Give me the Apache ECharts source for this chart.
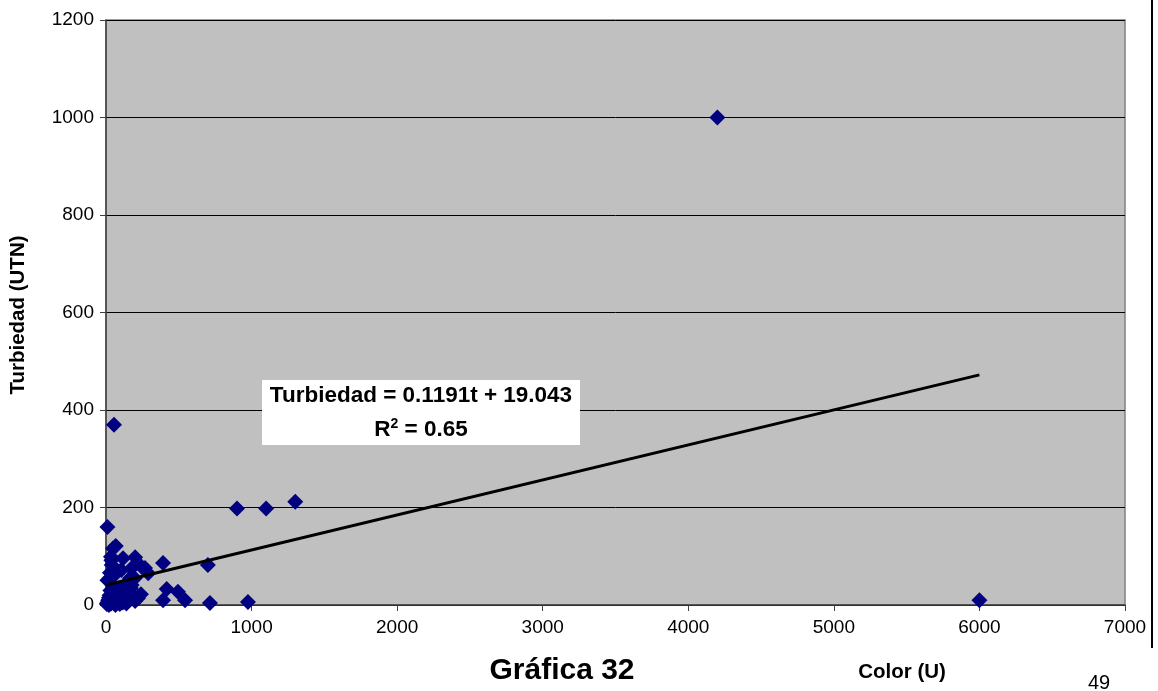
<!DOCTYPE html>
<html>
<head>
<meta charset="utf-8">
<script src="https://cdn.jsdelivr.net/npm/echarts@6/dist/echarts.min.js"></script>
<style>
html,body{margin:0;padding:0;background:#fff;}
#chart{width:1158px;height:691px;}
</style>
</head>
<body>
<div id="chart"></div>
<script>
// Data: [Color (U), Turbiedad (UTN)]
const colorU = [
  5,10,15,20,20,25,30,30,35,40,45,50,50,55,60,60,65,70,75,80,85,90,95,100,105,110,115,120,130,140,150,160,170,180,200,220,240,
  10,48,67,37,34,39,27,62,25,60,10,117,200,105,174,243,268,290,165,197,176,392,55,
  900,1100,1300,700,714,975,392,417,494,543,220,4200,6000
];
const turbiedad = [
  2,5,10,0,15,20,8,30,3,12,25,5,18,35,8,28,0,15,22,5,32,10,2,20,12,28,5,38,15,3,25,10,35,20,8,17,22,
  160,116,121,92,99,82,66,66,55,62,51,96,98,72,75,79,76,65,55,55,41,86,370,
  198,198,212,82,4,6,10,33,27,10,14,1000,10
];
// Trend line as drawn in the picture (two end points)
const trendX = [0, 6000];
const trendY = [41, 472];

const xTicks = [0,1000,2000,3000,4000,5000,6000,7000];
const yTicks = [0,200,400,600,800,1000,1200];

const points = colorU.map((x, i) => [x, turbiedad[i]]);
const trend = trendX.map((x, i) => [x, trendY[i]]);

const FONT = '"Liberation Sans", Arial, sans-serif';
const chart = echarts.init(document.getElementById('chart'), null, {renderer: 'canvas'});
chart.setOption({
  animation: false,
  backgroundColor: '#ffffff',
  grid: {left: 106, right: 33, top: 20, bottom: 86, show: true, backgroundColor: '#c0c0c0', borderColor: '#808080', borderWidth: 1.5},
  xAxis: {
    type: 'value', min: xTicks[0], max: xTicks[xTicks.length-1], interval: 1000,
    axisLine: {show: true, onZero: false, lineStyle: {color: '#404040', width: 1.5}},
    axisTick: {show: true, length: 6, lineStyle: {color: '#404040'}},
    axisLabel: {color: '#000', fontFamily: FONT, fontSize: 19, margin: 13, formatter: v => String(v)},
    splitLine: {show: false}
  },
  yAxis: {
    type: 'value', min: yTicks[0], max: yTicks[yTicks.length-1], interval: 200,
    axisLine: {show: true, onZero: false, lineStyle: {color: '#404040', width: 1.5}},
    axisTick: {show: true, length: 6, lineStyle: {color: '#404040'}},
    axisLabel: {color: '#000', fontFamily: FONT, fontSize: 19, margin: 12, formatter: v => String(v)},
    splitLine: {show: true, lineStyle: {color: '#000', width: 1}}
  },
  series: [
    {
      type: 'scatter', data: points, symbol: 'diamond', symbolSize: 16, z: 3,
      itemStyle: {color: '#000080', opacity: 1}
    },
    {
      type: 'line', data: trend, symbol: 'none', z: 4,
      lineStyle: {color: '#000', width: 3}
    }
  ],
  graphic: [
    {type: 'rect', shape: {x: 262, y: 380, width: 318, height: 65}, style: {fill: '#ffffff'}, z: 10},
    {type: 'text', x: 421, y: 396, z: 11, style: {
      text: 'Turbiedad = 0.1191t + 19.043', fontFamily: FONT, fontWeight: 'bold', fontSize: 22.5, fill: '#000',
      textAlign: 'center', textVerticalAlign: 'middle'}},
    {type: 'text', x: 421, y: 430, z: 11, style: {
      text: '{b|R}{s|2}{b| = 0.65}', textAlign: 'center', textVerticalAlign: 'middle',
      rich: {
        b: {fontFamily: FONT, fontWeight: 'bold', fontSize: 22.5, color: '#000'},
        s: {fontFamily: FONT, fontWeight: 'bold', fontSize: 14, color: '#000', verticalAlign: 'top', padding: [0,0,12,0]}
      }}},
    {type: 'text', x: 18, y: 315, rotation: Math.PI/2, z: 11, style: {
      text: 'Turbiedad (UTN)', fontFamily: FONT, fontWeight: 'bold', fontSize: 20.5, fill: '#000',
      textAlign: 'center', textVerticalAlign: 'middle'}},
    {type: 'text', x: 562, y: 671, z: 11, style: {
      text: 'Gráfica 32', fontFamily: FONT, fontWeight: 'bold', fontSize: 30, fill: '#000',
      textAlign: 'center', textVerticalAlign: 'middle'}},
    {type: 'text', x: 902, y: 672, z: 11, style: {
      text: 'Color (U)', fontFamily: FONT, fontWeight: 'bold', fontSize: 20.5, fill: '#000',
      textAlign: 'center', textVerticalAlign: 'middle'}},
    {type: 'text', x: 1099, y: 683, z: 11, style: {
      text: '49', fontFamily: FONT, fontSize: 20, fill: '#000',
      textAlign: 'center', textVerticalAlign: 'middle'}},
    {type: 'line', shape: {x1: 1152, y1: 0, x2: 1152, y2: 648}, style: {stroke: '#000', lineWidth: 2}, z: 11}
  ]
});
</script>
</body>
</html>
